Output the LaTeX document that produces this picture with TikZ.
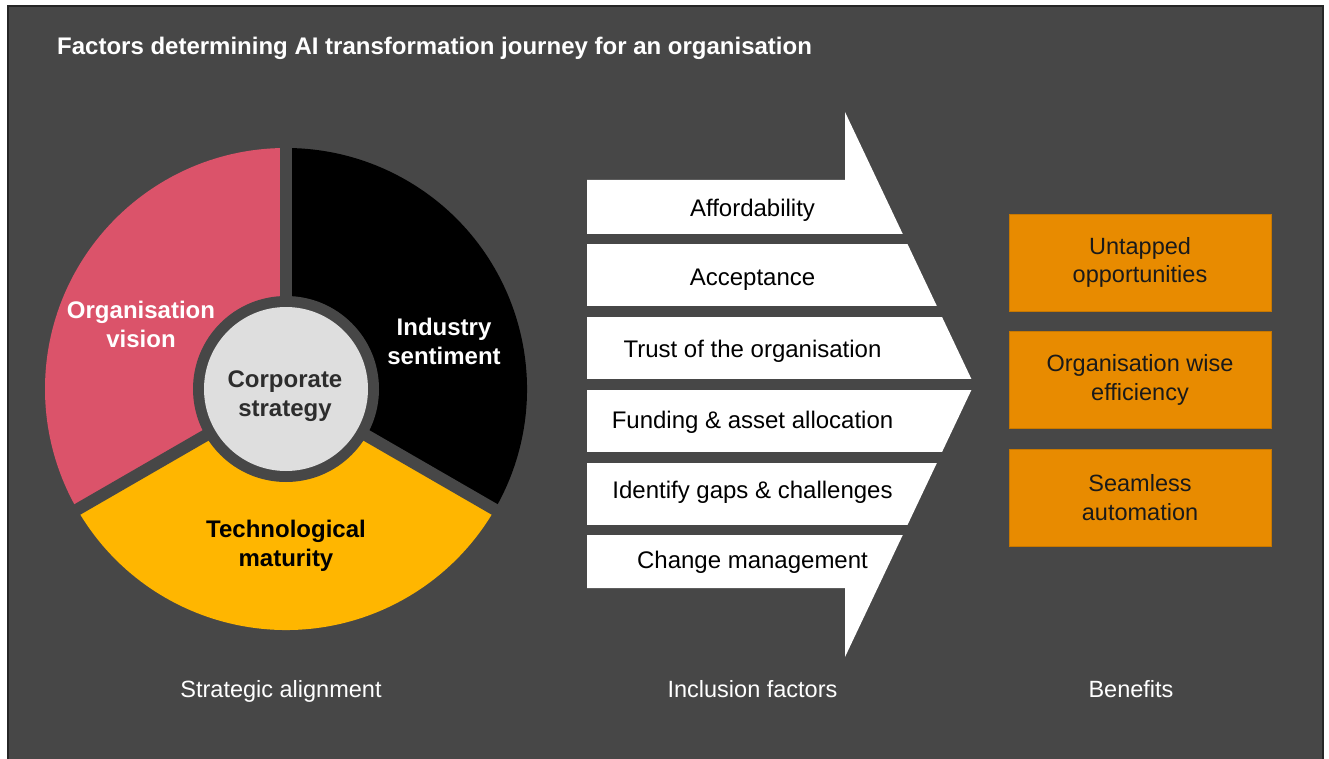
\documentclass[tikz,border=0pt]{standalone}
\usepackage{fontspec}
\setmainfont{Liberation Sans}
\definecolor{bggray}{HTML}{474747}
\definecolor{edgegray}{HTML}{262626}
\definecolor{rose}{HTML}{DB536A}
\definecolor{gold}{HTML}{FFB600}
\definecolor{core}{HTML}{DEDEDE}
\definecolor{coretext}{HTML}{2D2D2D}
\definecolor{tangerine}{HTML}{E88B00}
\definecolor{tangedge}{HTML}{C87800}
\definecolor{boxtext}{HTML}{1A1A1A}
\tikzset{
  pielabel/.style={align=center, font=\bfseries\fontsize{24}{29}\selectfont},
  bandtext/.style={anchor=base, text=black, font=\fontsize{24}{28}\selectfont},
  benefitbox/.style={draw=tangedge, line width=0.8, fill=tangerine, text=boxtext,
    minimum width=262, minimum height=97, align=center,
    font=\fontsize{23.5}{28.5}\selectfont},
  footlabel/.style={anchor=base, text=white, font=\fontsize{23.5}{28}\selectfont},
  gapline/.style={draw=bggray, line width=12}
}
\begin{document}
\begin{tikzpicture}[x=1pt,y=-1pt]
\useasboundingbox (0,0) rectangle (1329,759);
\fill[white] (0,0) rectangle (1329,759);
\draw[draw=edgegray, line width=2, fill=bggray] (8,6) rectangle (1323,768);

% title
\node[anchor=base west, text=white, inner sep=0, font=\bfseries\fontsize{24}{28}\selectfont] (title) at (57,55)
  {Factors determining AI transformation journey for an organisation};

% pie
\coordinate (c) at (286,389);
\fill[rose] (c) -- ++(-90:241) arc[start angle=-90, end angle=-210, radius=241] -- cycle;
\fill[gold] (c) -- ++(-210:241) arc[start angle=-210, end angle=-330, radius=241] -- cycle;
\fill[black] (c) -- ++(-330:241) arc[start angle=-330, end angle=-450, radius=241] -- cycle;
\draw[gapline] (c) -- ++(-90:250);
\draw[gapline] (c) -- ++(-210:250);
\draw[gapline] (c) -- ++(-330:250);
\fill[bggray] (c) circle (93);
\node[circle, fill=core, minimum size=164, inner sep=0] (corebox) at (c) {};
\node[pielabel, text=coretext] (corelabel) at (285,396.5) {Corporate\\strategy};
\node[pielabel, text=white] (vision) at (141,324.5) {Organisation\\vision};
\node[pielabel, text=white] (sentiment) at (444,341) {Industry\\sentiment};
\node[pielabel, text=black] (maturity) at (286,546) {Technological\\maturity};

% arrow of inclusion factors
\fill[white] (587,180) -- (845,180) -- (845,112) -- (974,384.5) -- (845,657) -- (845,588) -- (587,588) -- cycle;
\foreach \ya/\yb in {234/244, 306/317, 379/390, 452/463, 525/535}
  \fill[bggray] (580,\ya) rectangle (995,\yb);
\node[bandtext] (f1) at (752.5,217) {Affordability};
\node[bandtext] (f2) at (752.5,285) {Acceptance};
\node[bandtext] (f3) at (752.5,357) {Trust of the organisation};
\node[bandtext] (f4) at (752.5,428) {Funding \& asset allocation};
\node[bandtext] (f5) at (752.5,498) {Identify gaps \& challenges};
\node[bandtext] (f6) at (752.5,568) {Change management};

% benefits
\node[benefitbox] (b1) at (1140,262.5) {Untapped\\opportunities};
\node[benefitbox] (b2) at (1140,380) {Organisation wise\\efficiency};
\node[benefitbox] (b3) at (1140,497.5) {Seamless\\automation};

% footer labels
\node[footlabel] (l1) at (281,697) {Strategic alignment};
\node[footlabel] (l2) at (752.5,697) {Inclusion factors};
\node[footlabel] (l3) at (1131,697) {Benefits};
\end{tikzpicture}
\end{document}
